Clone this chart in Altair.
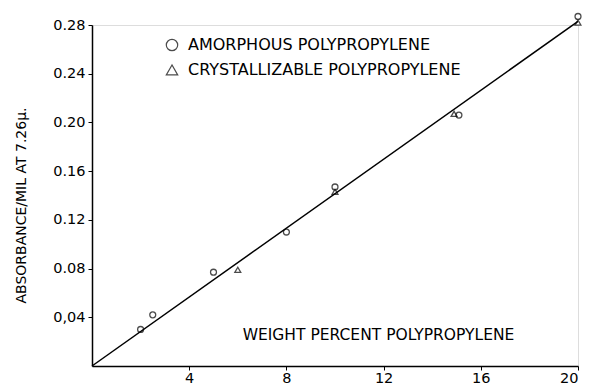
import altair as alt
import pandas as pd

# Amorphous polypropylene (circles)
amor_x = [2.0, 2.5, 5.0, 8.0, 10.0, 15.1, 20.0]
amor_y = [0.030, 0.042, 0.077, 0.110, 0.147, 0.206, 0.287]
# Crystallizable polypropylene (triangles)
cryst_x = [6.0, 10.0, 14.9, 20.0]
cryst_y = [0.079, 0.143, 0.207, 0.282]
# fitted straight line
line_x = [0.0, 20.0]
line_y = [0.0, 0.283]

x_ticks = [4, 8, 12, 16, 20]
y_ticks = [0.04, 0.08, 0.12, 0.16, 0.20, 0.24, 0.28]
y_tick_labels = ["0,04", "0.08", "0.12", "0.16", "0.20", "0.24", "0.28"]

series = ["AMORPHOUS POLYPROPYLENE", "CRYSTALLIZABLE POLYPROPYLENE"]

pts = pd.DataFrame(
    {"x": amor_x + cryst_x, "y": amor_y + cryst_y,
     "s": [series[0]] * len(amor_x) + [series[1]] * len(cryst_x)}
)
fit = pd.DataFrame({"x": line_x, "y": line_y})

FONT = "DejaVu Sans"

label_expr = "{" + ",".join(f"'{v:.2f}':'{l}'" for v, l in zip(y_ticks, y_tick_labels)) + "}[format(datum.value,'.2f')]"

xs = alt.Scale(domain=[0, 20], nice=False, zero=True)
ys = alt.Scale(domain=[0, 0.28], nice=False, zero=True)

xax = alt.Axis(values=x_ticks, format="d", title="WEIGHT PERCENT POLYPROPYLENE",
               titleX=286, titleY=-32, titleBaseline="middle", titleFont=FONT,
               titleFontSize=15.5, titleFontWeight="normal", titleColor="black",
               labelFont=FONT, labelFontSize=14.5, labelColor="black", labelPadding=1,
               domainColor="black", domainWidth=1.5, tickColor="black", tickSize=4,
               grid=False)
yax = alt.Axis(values=y_ticks, labelExpr=label_expr, title="ABSORBANCE/MIL AT 7.26\u03bc.",
               titleFont=FONT, titleFontSize=14, titleFontWeight="normal",
               titleColor="black", titlePadding=24, titleY=180,
               labelFont=FONT, labelFontSize=14.5, labelColor="black", labelPadding=3,
               domainColor="black", domainWidth=1.5, tickColor="black", tickSize=4,
               grid=False)

line = alt.Chart(fit).mark_line(color="black", strokeWidth=1.5, clip=False).encode(
    x=alt.X("x:Q", scale=xs, axis=xax),
    y=alt.Y("y:Q", scale=ys, axis=yax),
)

points = alt.Chart(pts).mark_point(filled=False, size=35, strokeWidth=1.3, clip=False).encode(
    x=alt.X("x:Q", scale=xs),
    y=alt.Y("y:Q", scale=ys),
    shape=alt.Shape("s:N", scale=alt.Scale(domain=series, range=["circle", "triangle-up"]),
                    legend=alt.Legend(title=None, orient="none", legendX=72, legendY=12,
                                      labelFont=FONT, labelFontSize=16, labelColor="black",
                                      labelLimit=0,
                                      symbolSize=130, symbolStrokeColor="black",
                                      symbolStrokeWidth=1.2, rowPadding=8, labelOffset=8)),
    color=alt.value("black"),
)

chart = (line + points).properties(
    width=486, height=341,
    padding={"left": 84, "top": 17, "right": 4, "bottom": 21},
    autosize=alt.AutoSizeParams(type="none"),
).configure_view(stroke=None).configure(background="white")

chart.save("out.html", embed_options={"renderer": "svg", "actions": False})
